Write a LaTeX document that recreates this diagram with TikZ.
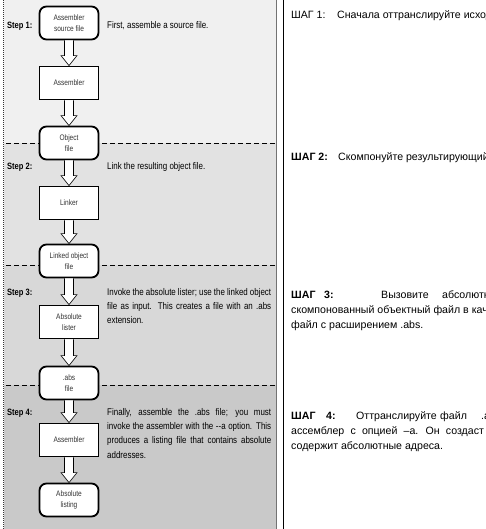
\documentclass[tikz,border=0pt]{standalone}
\usepackage{fontspec}
\setmainfont{Liberation Sans}
\newfontfamily\narrowfont[FakeStretch=0.82]{Liberation Sans}
\usetikzlibrary{calc}
\definecolor{bandA}{HTML}{F0F0F0}
\definecolor{bandB}{HTML}{E2E2E2}
\definecolor{bandC}{HTML}{D8D8D8}
\definecolor{bandD}{HTML}{C9C9C9}
\definecolor{boxtext}{HTML}{333333}
\tikzset{
  filebox/.style={draw=black, line width=1.8pt, rounded corners=7pt, fill=white,
    minimum width=59pt, minimum height=33pt, inner sep=0pt, align=center,
    text=boxtext, font=\narrowfont\fontsize{8}{10.5}\selectfont},
  toolbox/.style={filebox, rounded corners=0pt},
  steplabel/.style={anchor=base west, inner sep=0pt,
    font=\narrowfont\bfseries\fontsize{9.2}{11}\selectfont},
  desc/.style={anchor=base west, inner sep=0pt, text width=164pt, align=justify,
    font=\narrowfont\fontsize{9.7}{14.4}\selectfont},
  ru/.style={anchor=base west, inner sep=0pt, font=\fontsize{10.6}{12}\selectfont},
  sepline/.style={draw=black, line width=0.9pt, dash pattern=on 5pt off 3pt},
  hollow/.style={draw=black, line width=0.6pt, fill=white,
    to path={($(\tikztostart)+(-4.5,0)$) -- ($(\tikztotarget)+(-4.5,-10)$)
      -- ($(\tikztotarget)+(-8,-10)$) -- (\tikztotarget)
      -- ($(\tikztotarget)+(8,-10)$) -- ($(\tikztotarget)+(4.5,-10)$)
      -- ($(\tikztostart)+(4.5,0)$)}}
}
\begin{document}
\begin{tikzpicture}[x=1pt,y=-1pt]
\useasboundingbox (0,0) rectangle (485,529);
\fill[white] (0,0) rectangle (485,529);
% background bands
\fill[bandA] (4,0) rectangle (276,143);
\fill[bandB] (4,143) rectangle (276,265);
\fill[bandC] (4,265) rectangle (276,385);
\fill[bandD] (4,385) rectangle (276,529);
\draw[sepline] (6,143) -- (275,143);
\draw[sepline] (6,265) -- (275,265);
\draw[sepline] (6,385) -- (275,385);
\draw[black!80, line width=0.7pt, dash pattern=on 1pt off 1pt] (3.5,0) -- (3.5,529);
\draw[black!55, line width=0.6pt] (276.6,0) -- (276.6,529);
\draw[black, line width=1.1pt] (283.5,0) -- (283.5,529);
% flow nodes
\node[filebox] (n1) at (69,23) {Assembler\\source file};
\node[toolbox] (n2) at (69,83) {Assembler};
\node[filebox] (n3) at (69,143) {Object\\file};
\node[toolbox] (n4) at (69,203) {Linker};
\node[filebox] (n5) at (69,261) {Linked object\\file};
\node[toolbox] (n6) at (69,322) {Absolute\\lister};
\node[filebox] (n7) at (69,383) {.abs\\file};
\node[toolbox] (n8) at (69,440) {Assembler};
\node[filebox] (n9) at (69,500) {Absolute\\listing};
% arrows
\draw[hollow] (n1.south) to (n2.north);
\draw[hollow] (n2.south) to (n3.north);
\draw[hollow] (n3.south) to (n4.north);
\draw[hollow] (n4.south) to (n5.north);
\draw[hollow] (n5.south) to (n6.north);
\draw[hollow] (n6.south) to (n7.north);
\draw[hollow] (n7.south) to (n8.north);
\draw[hollow] (n8.south) to (n9.north);
% step labels
\node[steplabel] (s1) at (7,28.5) {Step 1:};
\node[steplabel] (s2) at (7,169.5) {Step 2:};
\node[steplabel] (s3) at (7,295) {Step 3:};
\node[steplabel] (s4) at (7,415) {Step 4:};
% descriptions
\node[desc] (d1) at (107,28.5) {First, assemble a source file.};
\node[desc] (d2) at (107,169.5) {Link the resulting object file.};
\node[desc] (d3) at (107,295) {Invoke the absolute lister; use the linked object\linebreak file as input. This creates a file with an .abs\linebreak extension.};
\node[desc] (d4) at (107,415) {Finally, assemble the .abs file; you must\linebreak invoke the assembler with the --a option. This\linebreak produces a listing file that contains absolute\linebreak addresses.};
% right column
\begin{scope}
\clip (284.5,0) rectangle (485,529);
\node[ru] (r1a) at (291,18.5) {ШАГ 1:};
\node[ru] (r1b) at (337,18.5) {Сначала оттранслируйте исходный файл.};
\node[ru] (r2a) at (291,160.5) {\bfseries ШАГ 2:};
\node[ru] (r2b) at (338,160.5) {Скомпонуйте результирующий объектный файл.};
\node[ru] (r3a) at (291,298.5) {\bfseries ШАГ};
\node[ru] (r3b) at (324,298.5) {\bfseries 3:};
\node[ru] (r3c) at (381,298.5) {Вызовите};
\node[ru] (r3d) at (442,298.5) {абсолютный};
\node[ru] (r3e) at (291,313.5) {скомпонованный объектный файл в качестве входного.};
\node[ru] (r3f) at (291,328.5) {файл с расширением .abs.};
\node[ru] (r4a) at (291,419) {\bfseries ШАГ};
\node[ru] (r4b) at (326,419) {\bfseries 4:};
\node[ru] (r4c) at (356,419) {Оттранслируйте};
\node[ru] (r4d) at (440,419) {файл};
\node[ru] (r4e) at (481,419) {.abs};
\node[ru] (r4f) at (291,434) {\spaceskip=6.2pt ассемблер с опцией –а. Он создаст листинг};
\node[ru] (r4g) at (291,449) {содержит абсолютные адреса.};
\end{scope}
\end{tikzpicture}
\end{document}
